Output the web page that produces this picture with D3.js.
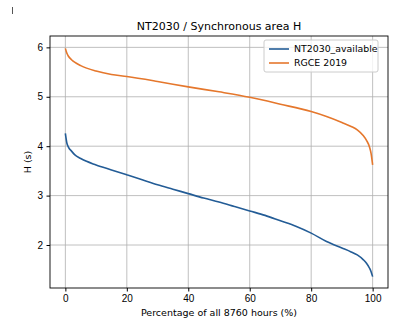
<!DOCTYPE html>
<html>
<head>
<meta charset="utf-8">
<script src="https://cdn.jsdelivr.net/npm/d3@7"></script>
<style>
  body { margin: 0; background: #fff; }
  svg { font-family: "DejaVu Sans", sans-serif; }
  .grid line { stroke: #b0b0b0; stroke-width: 0.8; }
  .axis path { display: none; }
  .axis line { stroke: #000; }
  .axis text { font-size: 10px; fill: #000; }
</style>
</head>
<body>
<svg id="chart" width="410" height="332"></svg>
<script>
    // percentage of hours, sorted duration curves
    var pctNT = [0, 0.5, 1, 2, 3, 5, 10, 15, 20, 25, 30, 35, 40, 45, 50, 55, 60, 65, 70, 75, 80, 85, 90, 93, 95, 97, 98, 99, 99.5, 100];
    var hNT = [4.26, 4.06, 3.98, 3.90, 3.83, 3.75, 3.62, 3.52, 3.42, 3.32, 3.22, 3.13, 3.04, 2.95, 2.87, 2.78, 2.69, 2.60, 2.49, 2.38, 2.24, 2.07, 1.94, 1.86, 1.80, 1.70, 1.63, 1.53, 1.46, 1.36];
    var pctRG = [0, 0.5, 1, 2, 3, 5, 10, 15, 20, 30, 40, 50, 60, 70, 80, 85, 90, 93, 95, 97, 98, 99, 99.5, 100];
    var hRG = [5.98, 5.88, 5.82, 5.75, 5.70, 5.63, 5.52, 5.45, 5.41, 5.31, 5.20, 5.10, 4.99, 4.85, 4.70, 4.60, 4.48, 4.40, 4.33, 4.21, 4.12, 3.98, 3.85, 3.62];
    var xTicks = [0, 20, 40, 60, 80, 100];
    var yTicks = [2, 3, 4, 5, 6];
    var seriesNames = ["NT2030_available", "RGCE 2019"];
    var seriesColors = ["#235c96", "#e5772c"];

    var margin = { l: 50, r: 22, t: 36, b: 44 };
    var w = 410, h = 332;
    var svg = d3.select("#chart");

    var x = d3.scaleLinear().domain([-5, 105]).range([margin.l, w - margin.r]);
    var y = d3.scaleLinear().domain([1.13, 6.23]).range([h - margin.b, margin.t]);

    // grid
    var grid = svg.append("g").attr("class", "grid");
    grid.selectAll(".gx").data(xTicks).enter().append("line")
        .attr("x1", function(d) { return x(d); }).attr("x2", function(d) { return x(d); })
        .attr("y1", y.range()[0]).attr("y2", y.range()[1]);
    grid.selectAll(".gy").data(yTicks).enter().append("line")
        .attr("y1", function(d) { return y(d); }).attr("y2", function(d) { return y(d); })
        .attr("x1", x.range()[0]).attr("x2", x.range()[1]);

    // lines
    var series = [
        { pct: pctNT, val: hNT },
        { pct: pctRG, val: hRG }
    ];
    var line = d3.line()
        .x(function(d) { return x(d[0]); })
        .y(function(d) { return y(d[1]); })
        .curve(d3.curveMonotoneX);
    series.forEach(function(s, i) {
        svg.append("path")
            .datum(d3.zip(s.pct, s.val))
            .attr("d", line)
            .attr("fill", "none")
            .attr("stroke", seriesColors[i])
            .attr("stroke-width", 1.6);
    });

    // axes
    svg.append("g").attr("class", "axis")
        .attr("transform", "translate(0," + y.range()[0] + ")")
        .call(d3.axisBottom(x).tickValues(xTicks).tickFormat(d3.format("d")).tickSize(3.5).tickPadding(3.5));
    svg.append("g").attr("class", "axis")
        .attr("transform", "translate(" + x.range()[0] + ",0)")
        .call(d3.axisLeft(y).tickValues(yTicks).tickFormat(d3.format("d")).tickSize(3.5).tickPadding(3.5));

    // frame
    svg.append("rect")
        .attr("x", x.range()[0]).attr("y", y.range()[1])
        .attr("width", x.range()[1] - x.range()[0])
        .attr("height", y.range()[0] - y.range()[1])
        .attr("fill", "none").attr("stroke", "#000").attr("stroke-width", 0.9);

    // texts
    svg.append("text").attr("x", (x.range()[0] + x.range()[1]) / 2).attr("y", 30)
        .attr("text-anchor", "middle").style("font-size", "11px")
        .text("NT2030 / Synchronous area H");
    svg.append("text").attr("x", (x.range()[0] + x.range()[1]) / 2).attr("y", 316)
        .attr("text-anchor", "middle").style("font-size", "9.5px")
        .text("Percentage of all 8760 hours (%)");
    svg.append("text")
        .attr("transform", "translate(31," + ((y.range()[0] + y.range()[1]) / 2) + ") rotate(-90)")
        .attr("text-anchor", "middle").style("font-size", "9.5px")
        .text("H (s)");

    // cursor mark in the corner
    svg.append("line").attr("x1", 12.5).attr("x2", 12.5).attr("y1", 7).attr("y2", 14)
        .attr("stroke", "#555").attr("stroke-width", 1);

    // legend
    var leg = svg.append("g").attr("transform", "translate(264,40)");
    leg.append("rect").attr("width", 114).attr("height", 32).attr("rx", 2)
        .attr("fill", "#fff").attr("fill-opacity", 0.8).attr("stroke", "#ccc");
    seriesNames.forEach(function(n, i) {
        var yy = 9 + i * 14;
        leg.append("line").attr("x1", 5).attr("x2", 25).attr("y1", yy).attr("y2", yy)
            .attr("stroke", seriesColors[i]).attr("stroke-width", 1.6);
        leg.append("text").attr("x", 30).attr("y", yy + 3.4).style("font-size", "9.4px").text(n);
    });
</script>
</body>
</html>
